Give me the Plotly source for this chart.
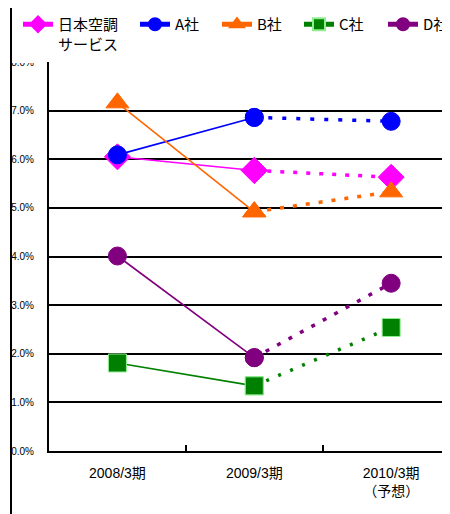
import plotly.graph_objects as go

periods = ["2008/3期", "2009/3期", "2010/3期<br>（予想）"]
companies = ["日本空調<br>サービス", "A社", "B社", "C社", "D社"]
colors = ["#ff00ff", "#0000ff", "#ff6600", "#008000", "#800080"]
symbols = ["diamond", "circle", "triangle-up", "square", "circle"]
msizes = [20, 18, 20, 18, 18]

# 営業利益率 (%)
values = {
    "日本空調<br>サービス": [6.05, 5.77, 5.63],
    "A社": [6.09, 6.86, 6.78],
    "B社": [7.16, 4.92, 5.33],
    "C社": [1.81, 1.34, 2.54],
    "D社": [4.01, 1.92, 3.45],
}
dot_styles = ["4px,9px", "4px,10px", "4px,9px", "3px,10px", "4px,9px"]

# page has an 8px body margin, so the figure is 8px smaller than the window
W, H = 442, 506
L, R, T, B = 41, 0, 54, 63
pw, ph = W - L - R, H - T - B


def px_x(x):
    return (x - L) / pw


def px_y(y):
    return (H - B - y) / ph


legend_x = [10, 127, 209, 291, 375]

fig = go.Figure()
for i, name in enumerate(companies):
    v = values[name]
    lname = "legend" if i == 0 else f"legend{i + 1}"
    edge = "#90ee90" if symbols[i] == "square" else colors[i]
    # actual results: solid
    fig.add_trace(go.Scatter(
        x=periods[:2], y=v[:2], name=name, mode="lines+markers",
        line=dict(color=colors[i], width=1.6),
        marker=dict(symbol=symbols[i], size=msizes[i], color=colors[i],
                    line=dict(color=edge, width=1)),
        legend=lname,
    ))
    # forecast: dotted
    fig.add_trace(go.Scatter(
        x=periods[1:], y=v[1:], mode="lines+markers", showlegend=False,
        line=dict(color=colors[i], width=3.5, dash=dot_styles[i]),
        marker=dict(symbol=symbols[i], size=msizes[i], color=colors[i],
                    line=dict(color=edge, width=1)),
        legend=lname,
    ))

legend_font = dict(family="Noto Sans CJK JP", size=15, color="black")
legends = {}
for i, lx in enumerate(legend_x):
    key = "legend" if i == 0 else f"legend{i + 1}"
    legends[key] = dict(
        x=px_x(lx), y=px_y(0), xanchor="left", yanchor="top",
        orientation="h", bgcolor="rgba(0,0,0,0)", font=legend_font,
        itemsizing="constant", valign="top", tracegroupgap=0,
    )

shapes = [
    # cover the top of the 8.0% label like the original
    dict(type="rect", xref="paper", yref="paper", x0=px_x(4), x1=px_x(39),
         y0=px_y(55), y1=px_y(0), fillcolor="white", line_width=0, layer="above"),
    # frame
    dict(type="line", xref="paper", yref="paper", x0=px_x(3), x1=px_x(3),
         y0=px_y(H), y1=px_y(0), line=dict(color="black", width=2), layer="above"),
]

fig.update_layout(
    width=W, height=H,
    margin=dict(l=L, r=R, t=T, b=B, autoexpand=False),
    paper_bgcolor="white", plot_bgcolor="white",
    font=dict(family="Liberation Sans Narrow, Liberation Sans, Noto Sans CJK JP", color="black"),
    shapes=shapes,
    **legends,
)
fig.update_xaxes(
    type="category", range=[-0.5, 2.43], tickson="boundaries",
    ticks="inside", ticklen=6, tickcolor="black", tickwidth=1.5,
    showline=True, linecolor="black", linewidth=2, showgrid=False,
    tickfont=dict(size=14), ticklabelstandoff=8,
)
fig.update_yaxes(
    range=[0, 8], dtick=1, tickformat=".1f", ticksuffix="%",
    showgrid=True, gridcolor="black", gridwidth=1.5, zeroline=False,
    showline=True, linecolor="black", linewidth=2, ticks="",
    tickfont=dict(size=10), ticklabelstandoff=11,
)

fig.write_html("out.html")
